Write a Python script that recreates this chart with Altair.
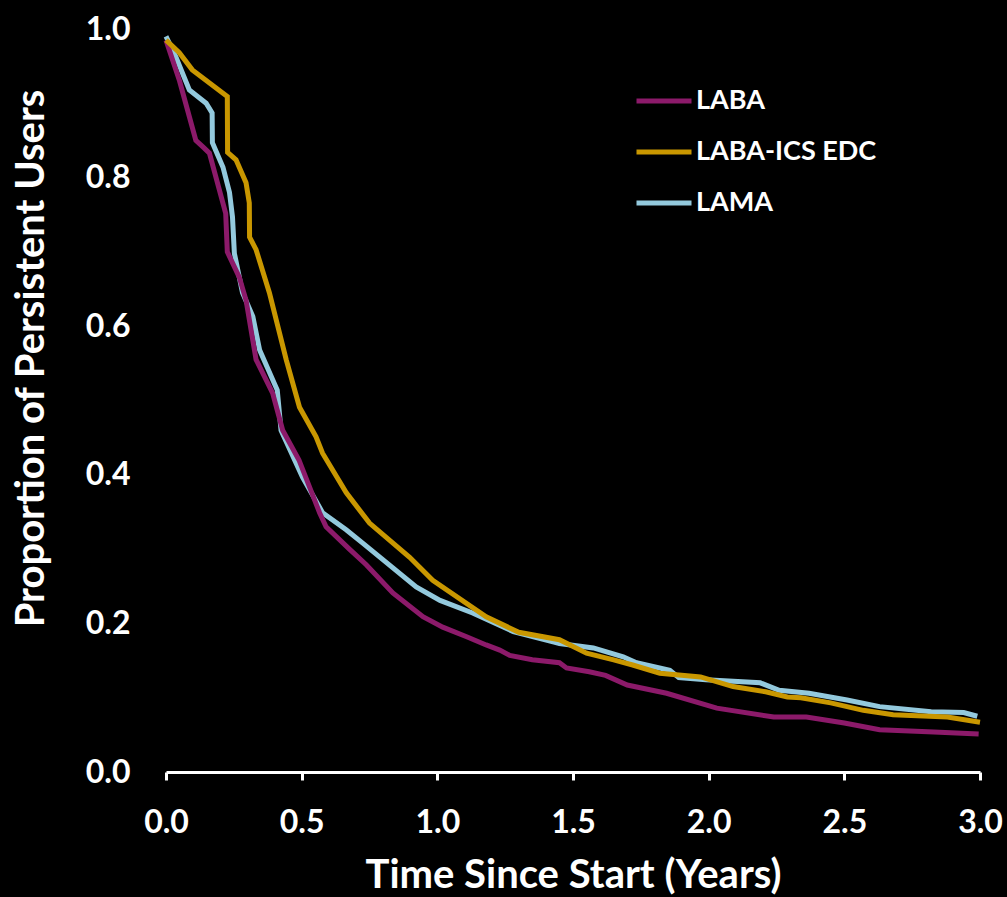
import altair as alt
import pandas as pd

FONT = "Lato"

laba_t = [0.0, 0.05, 0.11, 0.14, 0.16, 0.22, 0.226, 0.27, 0.295, 0.332, 0.393, 0.43, 0.49, 0.566,
          0.59, 0.676, 0.738, 0.836, 0.947, 1.02, 1.108, 1.18, 1.23, 1.267, 1.35, 1.45, 1.476,
          1.56, 1.62, 1.70, 1.845, 2.03, 2.24, 2.36, 2.50, 2.63, 2.83, 2.995]
laba_v = [0.985, 0.93, 0.85, 0.84, 0.833, 0.752, 0.70, 0.666, 0.635, 0.555, 0.51, 0.46, 0.42, 0.349,
          0.33, 0.30, 0.279, 0.241, 0.209, 0.195, 0.182, 0.171, 0.164, 0.157, 0.151, 0.147, 0.14,
          0.135, 0.13, 0.117, 0.106, 0.086, 0.074, 0.074, 0.066, 0.057, 0.054, 0.051]

edc_t = [0.0, 0.049, 0.097, 0.226, 0.227, 0.258, 0.295, 0.307, 0.308, 0.332, 0.381, 0.443, 0.492,
         0.553, 0.577, 0.664, 0.75, 0.898, 0.983, 1.18, 1.30, 1.45, 1.55, 1.65, 1.72, 1.82, 1.97,
         2.09, 2.21, 2.29, 2.34, 2.45, 2.57, 2.68, 2.88, 3.0]
edc_v = [0.985, 0.968, 0.945, 0.909, 0.834, 0.824, 0.793, 0.766, 0.72, 0.703, 0.645, 0.555, 0.491,
         0.451, 0.429, 0.376, 0.335, 0.289, 0.258, 0.209, 0.188, 0.178, 0.16, 0.151, 0.144, 0.133,
         0.128, 0.115, 0.108, 0.101, 0.100, 0.093, 0.083, 0.077, 0.074, 0.067]

lama_t = [0.0, 0.037, 0.086, 0.148, 0.17, 0.171, 0.21, 0.234, 0.245, 0.252, 0.282, 0.32, 0.345,
          0.41, 0.424, 0.503, 0.577, 0.664, 0.725, 0.922, 1.01, 1.13, 1.28, 1.43, 1.45, 1.575,
          1.685, 1.734, 1.857, 1.89, 1.99, 2.19, 2.26, 2.37, 2.51, 2.63, 2.82, 2.94, 2.99]
lama_v = [0.99, 0.962, 0.918, 0.90, 0.887, 0.847, 0.814, 0.78, 0.747, 0.698, 0.645, 0.613, 0.568,
          0.514, 0.46, 0.397, 0.349, 0.326, 0.308, 0.249, 0.231, 0.214, 0.189, 0.175, 0.173, 0.167,
          0.155, 0.147, 0.137, 0.127, 0.124, 0.12, 0.11, 0.106, 0.097, 0.088, 0.081, 0.08, 0.075]

series = ["LABA", "LABA-ICS EDC", "LAMA"]
colors = ["#8C1A6A", "#C99700", "#93C9DD"]

rows = []
for name, ts, vs in [("LABA", laba_t, laba_v), ("LABA-ICS EDC", edc_t, edc_v), ("LAMA", lama_t, lama_v)]:
    for i, (t, v) in enumerate(zip(ts, vs)):
        rows.append({"series": name, "t": t, "v": v, "i": i})
df = pd.DataFrame(rows)

color = alt.Color("series:N",
                  scale=alt.Scale(domain=series, range=colors),
                  legend=alt.Legend(title=None, orient="none", legendX=468, legendY=42,
                                    symbolType="stroke", symbolSize=3025, symbolStrokeWidth=5,
                                    labelFont=FONT, labelFontSize=27, labelFontWeight="bold",
                                    labelColor="white", labelOffset=2, rowPadding=8,
                                    labelLimit=400))

x = alt.X("t:Q", scale=alt.Scale(domain=[0, 3], nice=False, zero=False),
          axis=alt.Axis(title="Time Since Start (Years)", values=[0, 0.5, 1, 1.5, 2, 2.5, 3],
                        format=".1f", grid=False, domainColor="white", domainWidth=3,
                        tickColor="white", tickWidth=3, tickSize=8,
                        labelColor="white", labelFont=FONT, labelFontSize=32, labelFontWeight="bold",
                        labelBaseline="alphabetic", labelPadding=52, labelFlush=False,
                        titleColor="white", titleFont=FONT, titleFontSize=40, titleFontWeight="bold",
                        titleBaseline="alphabetic", titleY=115))
y = alt.Y("v:Q", scale=alt.Scale(domain=[0, 1], nice=False),
          axis=alt.Axis(title="Proportion of Persistent Users", values=[0, 0.2, 0.4, 0.6, 0.8, 1.0],
                        format=".1f", grid=False, domain=False, ticks=False,
                        labelColor="white", labelFont=FONT, labelFontSize=32, labelFontWeight="bold",
                        labelPadding=36, labelFlush=False,
                        titleColor="white", titleFont=FONT, titleFontSize=40, titleFontWeight="bold",
                        titleBaseline="alphabetic", titleX=-123, titleY=329))

layers = []
for name in ["LAMA", "LABA", "LABA-ICS EDC"]:
    layers.append(
        alt.Chart(df).transform_filter(alt.datum.series == name)
        .mark_line(strokeWidth=5, strokeJoin="miter", clip=False)
        .encode(x=x, y=y, color=color, order="i:Q")
    )

chart = alt.layer(*layers).properties(
    width=814, height=743,
    autosize=alt.AutoSizeParams(type="none"),
    padding={"left": 166, "top": 29, "right": 27, "bottom": 125},
    background="black",
).configure_view(stroke=None)

chart.save("out.html", embed_options={"renderer": "svg", "actions": False})
